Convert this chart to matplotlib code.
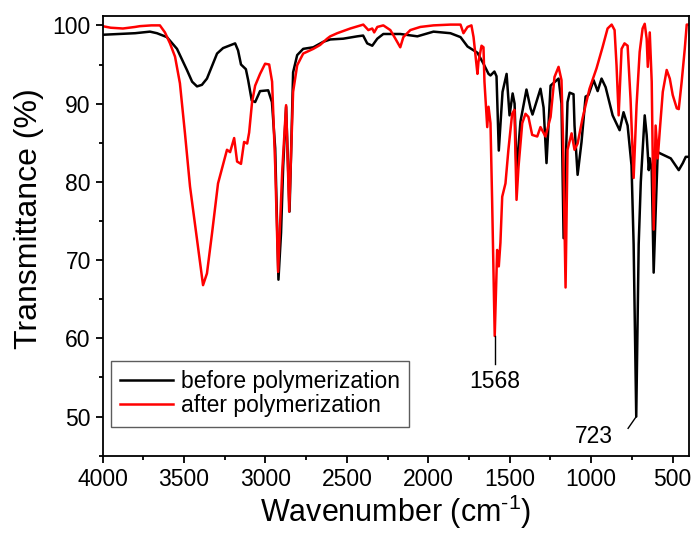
import numpy as np
import matplotlib
matplotlib.use("Agg")
import matplotlib.pyplot as plt
from matplotlib.ticker import MultipleLocator

plt.rcParams['font.family'] = ['Liberation Sans', 'DejaVu Sans']
plt.rcParams['mathtext.fontset'] = 'custom'
plt.rcParams['mathtext.rm'] = 'Liberation Sans'

# spectrum before polymerization (wavenumber cm-1, transmittance %)
before_wn = [4000, 3900, 3800, 3709, 3666, 3605, 3543, 3482, 3450, 3420, 3390, 3359,
             3297, 3260, 3186, 3168, 3150, 3135, 3120, 3106, 3084, 3063, 3033, 2983,
             2960, 2940, 2920, 2904, 2891, 2873, 2852, 2842, 2830, 2805, 2768, 2706,
             2645, 2602, 2522, 2436, 2400, 2375, 2344, 2313, 2276, 2214, 2172, 2067,
             1968, 1864, 1802, 1759, 1698, 1661, 1630, 1618, 1594, 1581, 1567, 1544,
             1519, 1501, 1482, 1470, 1458, 1434, 1397, 1372, 1360, 1311, 1292, 1274,
             1249, 1200, 1182, 1169, 1145, 1132, 1108, 1102, 1083, 1059, 1034, 1016,
             985, 960, 936, 911, 868, 850, 825, 801, 776, 752, 739, 723, 708, 695,
             683, 671, 659, 646, 640, 628, 616, 604, 591, 572, 511, 462, 437, 419, 400]
before_t = [98.8, 98.9, 99.0, 99.2, 99.0, 98.5, 97.0, 94.3, 92.8, 92.2, 92.4, 93.2,
            96.4, 97.1, 97.7, 96.8, 95.0, 94.7, 94.4, 93.0, 90.4, 90.2, 91.6, 91.7,
            90.2, 84.3, 67.5, 73.5, 82.0, 89.6, 76.2, 84.0, 94.0, 96.2, 97.0, 97.2,
            97.9, 98.2, 98.3, 98.6, 98.7, 97.7, 97.4, 98.3, 98.9, 98.9, 98.9, 98.6,
            99.2, 99.0, 98.5, 97.3, 96.5, 95.1, 93.8, 93.6, 94.1, 93.5, 84.0, 91.5,
            93.8, 88.5, 91.3, 90.0, 81.3, 87.7, 91.8, 89.4, 88.6, 91.9, 89.5, 82.4,
            92.3, 93.2, 90.0, 72.8, 90.2, 91.4, 91.2, 87.2, 80.9, 85.1, 90.9, 91.1,
            93.0, 91.6, 93.2, 92.1, 88.5, 87.7, 86.6, 88.9, 87.2, 82.1, 72.0, 50.0, 72.0, 80.0,
            84.3, 88.5, 86.0, 81.5, 83.0, 81.5, 68.4, 76.0, 83.8, 83.6, 83.0, 81.5, 82.4, 83.2, 83.2]

# spectrum after polymerization
after_wn = [4000, 3950, 3875, 3800, 3771, 3700, 3648, 3617, 3586, 3555, 3525, 3494,
            3463, 3420, 3383, 3359, 3328, 3291, 3236, 3217, 3192, 3174, 3150, 3131,
            3112, 3100, 3082, 3063, 3033, 3002, 2977, 2959, 2940, 2922, 2897, 2873,
            2854, 2830, 2805, 2768, 2706, 2664, 2621, 2602, 2559, 2479, 2399, 2368,
            2344, 2332, 2313, 2276, 2233, 2202, 2172, 2153, 2110, 2049, 1968, 1864,
            1802, 1784, 1759, 1735, 1722, 1698, 1692, 1673, 1661, 1655, 1638, 1630,
            1618, 1608, 1592, 1577, 1567, 1557, 1546, 1526, 1508, 1485, 1471, 1458,
            1446, 1423, 1403, 1385, 1362, 1331, 1311, 1280, 1249, 1225, 1200, 1182,
            1172, 1157, 1145, 1120, 1102, 1083, 1053, 1010, 967, 930, 899, 874, 856,
            844, 831, 813, 795, 776, 758, 739, 721, 702, 684, 671, 659, 652, 640,
            628, 616, 604, 591, 579, 560, 536, 517, 499, 474, 462, 444, 425, 413, 400]
after_t = [99.9, 99.7, 99.6, 99.8, 99.9, 100.0, 100.0, 99.1, 97.7, 96.0, 92.6, 86.2,
           79.4, 72.6, 66.8, 68.3, 73.4, 79.8, 84.1, 83.8, 85.6, 82.6, 82.3, 85.1,
           84.9, 86.3, 90.2, 92.3, 93.8, 95.1, 95.0, 92.8, 82.1, 68.5, 81.3, 89.8,
           76.2, 91.5, 94.9, 96.4, 97.0, 97.5, 98.3, 98.6, 99.0, 99.6, 100.1, 99.4,
           99.6, 99.1, 99.8, 100.0, 99.4, 98.3, 97.2, 98.5, 99.4, 99.8, 100.0, 100.1,
           100.1, 99.0, 99.8, 100.0, 98.5, 93.8, 95.3, 97.4, 97.2, 92.8, 87.0, 89.6,
           87.5, 77.7, 60.3, 71.3, 69.2, 72.2, 78.1, 79.8, 84.1, 88.7, 89.2, 77.7,
           81.9, 87.5, 88.7, 88.3, 86.0, 85.8, 87.0, 85.8, 88.3, 93.4, 94.7, 93.0,
           85.0, 66.5, 84.1, 86.2, 84.1, 84.9, 88.1, 91.9, 94.5, 97.2, 99.6, 100.1, 99.4,
           94.9, 88.5, 97.0, 97.7, 97.4, 90.6, 80.5, 89.8, 96.6, 99.6, 100.2, 98.3, 94.7, 99.1,
           92.8, 73.9, 87.2, 83.0, 86.4, 91.5, 94.3, 93.2, 91.1, 89.4, 89.3, 92.8, 97.0, 100.1, 100.1]

series_labels = ["before polymerization", "after polymerization"]
peak_labels = ["1568", "723"]

fig = plt.figure(figsize=(6.93, 5.33), dpi=100)
ax = fig.add_axes([0.148, 0.145, 0.846, 0.825])

ax.plot(before_wn, before_t, color='black', lw=1.8, label=series_labels[0])
ax.plot(after_wn, after_t, color='red', lw=1.8, label=series_labels[1])

# peak annotations
i_red = int(np.argmin(after_t))
x_red, y_red = after_wn[i_red], after_t[i_red]
ax.plot([x_red, x_red], [y_red, y_red - 3.6], color='black', lw=1)
ax.text(x_red, y_red - 5.8, peak_labels[0], ha='center', va='center', fontsize=16.5)

i_blk = int(np.argmin(before_t))
x_blk, y_blk = before_wn[i_blk], before_t[i_blk]
ax.plot([x_blk, x_blk + 50], [y_blk, y_blk - 1.5], color='black', lw=1)
ax.text(x_blk + 262, y_blk - 2.6, peak_labels[1], ha='center', va='center', fontsize=16.5)

ax.set_xlim(4000, 400)
ax.set_ylim(45, 101.2)
ax.xaxis.set_major_locator(MultipleLocator(500))
ax.xaxis.set_minor_locator(MultipleLocator(250))
ax.yaxis.set_major_locator(MultipleLocator(10))
ax.yaxis.set_minor_locator(MultipleLocator(5))
ax.tick_params(which='both', direction='out', top=False, right=False, width=1.3, labelsize=16.5)
ax.tick_params(which='major', length=5)
ax.tick_params(which='minor', length=3)
for sp in ax.spines.values():
    sp.set_linewidth(1.3)

ax.set_xlabel("Wavenumber (cm$^{\\text{-1}}$)", fontsize=22)
ax.set_ylabel("Transmittance (%)", fontsize=23)
ax.yaxis.set_label_coords(-0.1, 0.54)
ax.xaxis.set_label_coords(0.5, -0.085)

leg = ax.legend(loc='upper left', bbox_to_anchor=(0.014, 0.215), borderaxespad=0,
                fontsize=16.5, frameon=True, fancybox=False, handlelength=2.3,
                handletextpad=0.35, labelspacing=0.05, borderpad=0.4)
leg.get_frame().set_edgecolor('#333333')
leg.get_frame().set_linewidth(1.0)

fig.savefig("out.png", dpi=100)
